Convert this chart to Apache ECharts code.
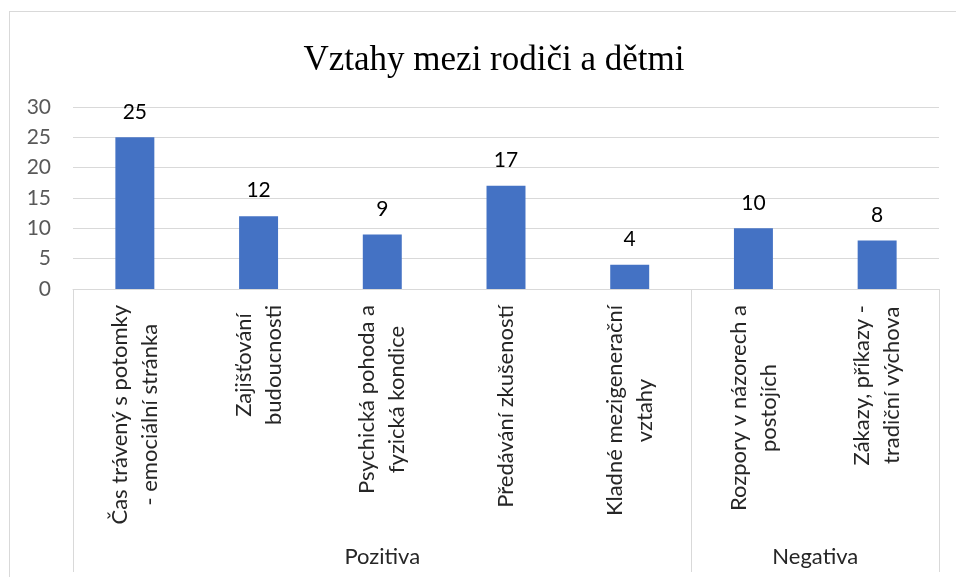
<!DOCTYPE html>
<html>
<head>
<meta charset="utf-8">
<script src="https://cdn.jsdelivr.net/npm/echarts@6/dist/echarts.min.js"></script>
<style>
  html, body { margin: 0; padding: 0; overflow: hidden; background: #fff; }
  #chart { position: absolute; left: 0; top: 0; width: 956px; height: 577px; }
  #frame { position: absolute; left: 9px; top: 11px; width: 1000px; height: 1000px; border: 1px solid #d9d9d9; pointer-events: none; }
</style>
</head>
<body>
<div id="chart"></div>
<div id="frame"></div>
<script>
const title = 'Vztahy mezi rodiči a dětmi';
const categories = [
  'Čas trávený s potomky\n- emociální stránka',
  'Zajišťování\nbudoucnosti',
  'Psychická pohoda a\nfyzická kondice',
  'Předávání zkušeností',
  'Kladné mezigenerační\nvztahy',
  'Rozpory v názorech a\npostojích',
  'Zákazy, příkazy -\ntradiční výchova'
];
const values = [25, 12, 9, 17, 4, 10, 8];
const groupNames = ['Pozitiva', 'Negativa'];
const groupSizes = [5, 2];
const yTicks = [0, 5, 10, 15, 20, 25, 30];

// group boundaries and centers (in category units)
const bounds = [0];
groupSizes.forEach(s => bounds.push(bounds[bounds.length - 1] + s));
const centers = groupSizes.map((s, i) => bounds[i] + s / 2);

const FONT = 'Lato';
const chart = echarts.init(document.getElementById('chart'), null, { renderer: 'canvas' });
chart.setOption({
  animation: false,
  backgroundColor: '#ffffff',
  title: {
    text: title,
    left: 489,
    top: 38,
    textAlign: 'center',
    textStyle: { fontFamily: 'Liberation Serif', fontSize: 35, fontWeight: 'normal', color: '#000000' }
  },
  grid: { left: 73, right: 17, top: 107, bottom: 288, containLabel: false },
  xAxis: [
    {
      type: 'category',
      data: categories,
      position: 'bottom',
      axisLine: { show: true, lineStyle: { color: '#d9d9d9', width: 1 } },
      axisTick: { show: false },
      splitLine: { show: false },
      axisLabel: {
        interval: 0,
        rotate: 90,
        margin: 16,
        color: '#262626',
        fontFamily: FONT,
        fontSize: 22,
        lineHeight: 30,
        formatter: v => v.split('\n').map(l => '{c|' + l + '}').join('\n'),
        rich: { c: { align: 'center', fontFamily: FONT, fontSize: 22, lineHeight: 30, color: '#262626' } }
      }
    },
    {
      type: 'value',
      position: 'bottom',
      min: 0,
      max: categories.length,
      axisLine: { show: false },
      splitLine: { show: false },
      axisTick: { show: true, customValues: bounds, length: 283, lineStyle: { color: '#d9d9d9', width: 1 } },
      axisLabel: {
        show: true,
        customValues: centers,
        margin: 257,
        color: '#262626',
        fontFamily: FONT,
        fontSize: 22,
        formatter: v => {
          const i = centers.findIndex(c => Math.abs(c - v) < 1e-6);
          return i >= 0 ? groupNames[i] : '';
        }
      }
    }
  ],
  yAxis: {
    type: 'value',
    min: yTicks[0],
    max: yTicks[yTicks.length - 1],
    interval: yTicks[1] - yTicks[0],
    axisLine: { show: false },
    axisTick: { show: false },
    splitLine: { show: true, lineStyle: { color: '#d9d9d9', width: 1 } },
    axisLabel: { margin: 22, color: '#595959', fontFamily: FONT, fontSize: 21 }
  },
  series: [{
    type: 'bar',
    xAxisIndex: 0,
    data: values,
    barWidth: '31.5%',
    itemStyle: { color: '#4472c4' },
    label: { show: true, position: 'top', distance: 15, color: '#000000', fontFamily: FONT, fontSize: 21 }
  }]
});
</script>
</body>
</html>
